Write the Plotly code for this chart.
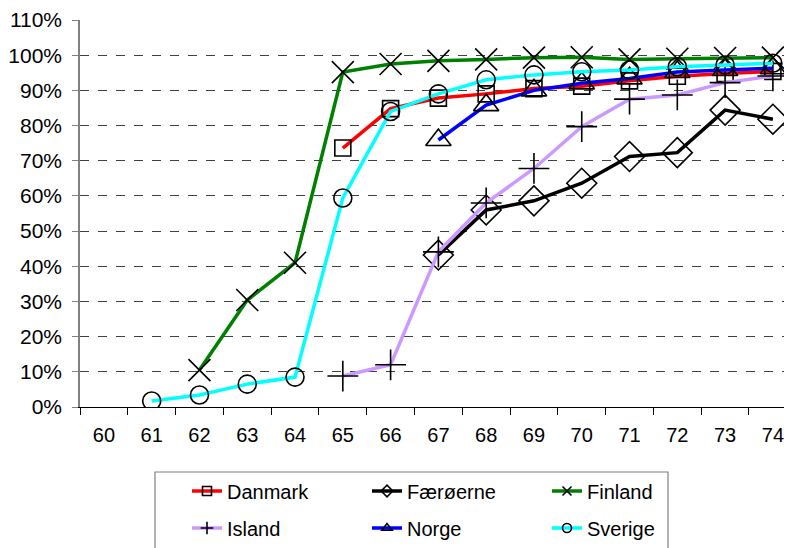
import plotly.graph_objects as go

years = ["60", "61", "62", "63", "64", "65", "66", "67", "68", "69", "70", "71", "72", "73", "74"]

danmark   = [None, None, None, None, None, 0.736, 0.848, 0.878, 0.890, 0.905, 0.912, 0.927, 0.940, 0.948, 0.954]
faeroerne = [None, None, None, None, None, None, None, 0.432, 0.560, 0.586, 0.636, 0.712, 0.723, 0.844, 0.818]
finland   = [None, None, 0.105, 0.304, 0.410, 0.952, 0.975, 0.984, 0.988, 0.993, 0.994, 0.988, 0.990, 0.992, 0.993]
island    = [None, None, None, None, None, 0.088, 0.120, 0.441, 0.580, 0.678, 0.797, 0.875, 0.887, 0.922, 0.941]
norge     = [None, None, None, None, None, None, None, 0.759, 0.858, 0.900, 0.920, 0.934, 0.952, 0.958, 0.963]
sverige   = [None, 0.017, 0.034, 0.065, 0.085, 0.594, 0.840, 0.890, 0.930, 0.944, 0.953, 0.958, 0.967, 0.972, 0.977]

series = [
    ("Danmark", danmark, "#FF0000", "square-open", 16, "legend"),
    ("Færøerne", faeroerne, "#000000", "diamond-open", 23, "legend"),
    ("Finland", finland, "#008000", "x-thin-open", 22, "legend"),
    ("Island", island, "#CC99FF", "cross-thin-open", 22, "legend2"),
    ("Norge", norge, "#0000FF", "triangle-up-open", 22, "legend2"),
    ("Sverige", sverige, "#00FFFF", "circle-open", 18, "legend2"),
]

fig = go.Figure()
for name, vals, color, sym, size, lg in series:
    fig.add_trace(go.Scatter(
        x=years, y=vals, mode="lines+markers", name=name, showlegend=False,
        line=dict(color=color, width=3.5),
        marker=dict(symbol=sym, size=size, color="black", line=dict(color="black", width=1.6)),
        connectgaps=False,
    ))
for name, vals, color, sym, size, lg in series:
    fig.add_trace(go.Scatter(
        x=[years[0]], y=[None], mode="lines+markers", name=name, showlegend=True, legend=lg,
        line=dict(color=color, width=3.5),
        marker=dict(symbol=sym, size=9, color="black", line=dict(color="black", width=1.6)),
    ))

# page body has an 8px margin: figure is drawn at offset (8, 8)
OFF = 8
W, H = 792 - OFF, 548 - OFF
PL, PT, PB = 80 - OFF, 20 - OFF, 407 - OFF
PW = W - PL

def px_x(p):
    return (p - OFF - PL) / PW
def px_y(p):
    return (PB - (p - OFF)) / (PB - PT)

leg_common = dict(
    orientation="h", xref="container", yref="container", xanchor="left", yanchor="middle",
    entrywidth=135, entrywidthmode="pixels", bgcolor="rgba(0,0,0,0)", borderwidth=0,
    font=dict(size=20),
)

fig.update_layout(
    width=W, height=H,
    margin=dict(l=PL, r=0, t=PT, b=H - PB, autoexpand=False),
    paper_bgcolor="white", plot_bgcolor="white",
    font=dict(family="Liberation Sans, Arial, sans-serif", color="black", size=20),
    legend=dict(x=(187 - OFF) / W, y=1 - (491 - OFF) / H, **leg_common),
    legend2=dict(x=(187 - OFF) / W, y=1 - (528 - OFF) / H, **leg_common),
    shapes=[dict(type="rect", xref="paper", yref="paper",
                 x0=px_x(155), x1=px_x(668), y0=px_y(552), y1=px_y(472),
                 line=dict(color="#808080", width=1.2), fillcolor="rgba(0,0,0,0)", layer="above")],
)
fig.update_xaxes(
    type="category", range=[-0.5, 14.4], showgrid=False, zeroline=False, automargin=False,
    showline=True, linecolor="black", linewidth=1.2,
    ticks="outside", tickson="boundaries", ticklen=7, tickcolor="black",
    tickfont=dict(size=20), ticklabelstandoff=10,
)
fig.update_yaxes(
    range=[0, 1.1], dtick=0.1, tickformat=".0%", automargin=False,
    showgrid=True, gridcolor="#404040", griddash="dash", gridwidth=1,
    zeroline=False, showline=True, linecolor="#808080", linewidth=1.5,
    ticks="outside", ticklen=6, tickcolor="#808080",
    tickfont=dict(size=21), ticklabelstandoff=6,
)

fig.write_html("out.html")
